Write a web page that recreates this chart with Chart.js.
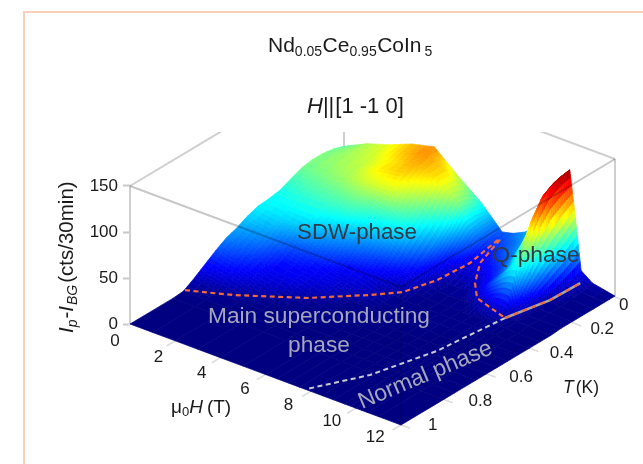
<!DOCTYPE html>
<html><head><meta charset="utf-8">
<style>html,body{margin:0;padding:0;background:#fff;overflow:hidden}#w{position:absolute;left:0;top:0;width:643px;height:464px}canvas{filter:blur(.45px)}</style>
<script src="https://cdn.jsdelivr.net/npm/chart.js@4/dist/chart.umd.min.js"></script>
</head><body><div id="w"><canvas id="c" width="643" height="464"></canvas></div>
<script>
// ---- read values ----
const fieldH = [0,1,2,3,4,5,6,6.5,7,7.5,8,8.5,9,9.5,9.75,10,10.25,10.5,11,12];
const tempT = [0,.05,.1,.15,.2,.25,.3,.35,.4,.45,.5,.55,.6,.65,.7,.75,.8,1];
const zT000 = [54,66,74,84,90,69,50,38,25,28,34,42,60,90,112,120,70,15,6,1];
const zT005 = [58,66,72,82,90,80,58,38,22,24,28,36,55,88,110,118,60,10,3,1];
const zT010 = [60,65,70,78,86,80,62,36,18,18,25,30,48,80,103,112,50,6,2,1];
const zT015 = [60,64,68,78,82,68,46,26,12,13,18,24,38,65,85,95,40,3,1,1];
const zT020 = [58,61,65,72,74,55,34,15,8,8,11,18,28,45,55,70,28,2,1,1];
const zT025 = [53,56,58,60,52,45,24,10,3,3,5,13,25,38,43,45,15,1,1,1];
const zT030 = [48,51,52,50,40,30,15,5,2,2,2,3,8,12,12,10,1,1,1,0];
const zT035 = [46,46,46,38,28,18,10,3,1,1,1,1,1,1,1,1,1,1,0,0];
const zT040 = [45,42,38,28,18,11,3,1,1,1,1,1,1,1,1,1,1,0,0,0];
const zT045 = [41,36,25,19,12,10,2,1,1,1,1,1,1,1,1,0,0,0,0,0];
const zT050 = [35,30,18,14,12,2,1,1,1,1,1,1,0,0,0,0,0,0,0,0];
const zT055 = [31,24,14,13,5,1,1,1,1,0,0,0,0,0,0,0,0,0,0,0];
const zT060 = [24,18,12,6,1,1,1,0,0,0,0,0,0,0,0,0,0,0,0,0];
const zT065 = [16,12,5,1,1,1,0,0,0,0,0,0,0,0,0,0,0,0,0,0];
const zT070 = [8,3,1,1,0,0,0,0,0,0,0,0,0,0,0,0,0,0,0,0];
const zT075 = [1,1,0,0,0,0,0,0,0,0,0,0,0,0,0,0,0,0,0,0];
const zT080 = [0,0,0,0,0,0,0,0,0,0,0,0,0,0,0,0,0,0,0,0];
const zT100 = [0,0,0,0,0,0,0,0,0,0,0,0,0,0,0,0,0,0,0,0];
const zRows = [zT000,zT005,zT010,zT015,zT020,zT025,zT030,zT035,zT040,zT045,zT050,zT055,zT060,zT065,zT070,zT075,zT080,zT100];
const zTicks = [0,50,100,150];
const hTicks = [0,2,4,6,8,10,12];
const tTicks = [0,.2,.4,.6,.8,1];
const tTickLabels = ['0','0.2','0.4','0.6','0.8','1'];
// phase boundaries: field, temperature, intensity
const domeH = [0,1.61,3.81,5.43,6.24,6.71,7.0,6.93];
const domeT = [.743,.689,.575,.452,.383,.273,.15,.002];
const domeZ = [1,3,4,5,6,8,12,18];
const qH = [7.0,7.27,7.79,8.41,10.0];
const qT = [.01,.131,.21,.266,.303];
const qZ = [18,12,6,3,1];
const hc2H = [10.0,10.41,10.46];
const hc2T = [.303,.136,0];
const hc2Z = [1,1,1];
const normalH = [10.0,9.6,8.87,7.79];
const normalT = [.303,.58,.815,.995];
const normalZ = [1,0,0,0];

// ---- oblique projection onto the chart's two scales ----
const H_X = 271/12, T_X = 214, H_Y = 101/12, T_Y = 128, Z_PX = .92;
function proj(h,t,z){const b=1-t;return {x:H_X*h+T_X*b, y:z+(T_Y*b-H_Y*h)/Z_PX};}

function jet(v){
  v=Math.max(0,Math.min(1,v));
  const c=s=>Math.round(255*Math.max(0,Math.min(1,1.5-Math.abs(4*v-s))));
  return `rgb(${c(3)},${c(2)},${c(1)})`;
}
const ZMAX=122, MAXSUB=6;
function cellAt(i,j,a,b){
  const z=(1-a)*(1-b)*zRows[j][i]+a*(1-b)*zRows[j][i+1]+(1-a)*b*zRows[j+1][i]+a*b*zRows[j+1][i+1];
  const h=fieldH[i]+a*(fieldH[i+1]-fieldH[i]);
  const t=tempT[j]+b*(tempT[j+1]-tempT[j]);
  return {z,p:proj(h,t,z)};
}
const quads=[];
for(let j=0;j<tempT.length-1;j++)for(let i=0;i<fieldH.length-1;i++){
  const c=[zRows[j][i],zRows[j][i+1],zRows[j+1][i],zRows[j+1][i+1]];
  const range=Math.max(...c)-Math.min(...c);
  const n=Math.max(1,Math.min(MAXSUB,Math.ceil(range/3)));
  for(let q=0;q<n;q++)for(let r=0;r<n;r++){
    const A=cellAt(i,j,r/n,q/n),B=cellAt(i,j,(r+1)/n,q/n),C=cellAt(i,j,(r+1)/n,(q+1)/n),D=cellAt(i,j,r/n,(q+1)/n);
    const col=jet((A.z+B.z+C.z+D.z)/4/ZMAX);
    quads.push({data:[A.p,B.p,C.p,D.p,A.p],fill:'shape',backgroundColor:col,borderColor:col,borderWidth:.7,pointRadius:0,tension:0});
  }
}
const line=(pts,color,width,dash)=>({data:pts,borderColor:color,borderWidth:width,borderDash:dash||[],pointRadius:0,fill:false,tension:0,clip:{left:3,right:0,top:0,bottom:0},borderCapStyle:'butt'});
const curve=(H,T,Z)=>H.map((h,i)=>proj(h,T[i],Z[i]));
const BOX='#cfcfcf', TICK='#dedede', THRU='rgba(0,0,0,.22)', ORANGE='#f2683a';
const front=[
  line(curve(domeH,domeT,domeZ),ORANGE,2.2,[5,3.5]),
  line(curve(qH,qT,qZ),ORANGE,2.2,[5,3.5]),
  line(curve(hc2H,hc2T,hc2Z),ORANGE,2,[5,4.5]),
  line(curve(hc2H,hc2T,hc2Z),'#aaa6a6',2.6),
  line(curve(normalH,normalT,normalZ),'#c9c9cf',2,[5,3.5]),
  line([proj(0,1,150),proj(12,1,150),proj(12,0,150)],THRU,2),
  line([proj(12,1,0),proj(12,1,150)],'rgba(0,0,0,.12)',2),
];
const back=[
  line([proj(0,1,0),proj(0,1,150)],BOX,2),
  line([proj(12,0,0),proj(12,0,150)],BOX,2),
  line([proj(0,0,0),proj(0,0,150)],BOX,2),
  line([proj(0,1,150),proj(0,0,150)],BOX,2),
  line([proj(12,0,150),proj(0,0,150)],BOX,2),
  ...hTicks.map(h=>line([proj(h,1,0),proj(h,1.04,0)],TICK,1.6)),
  ...tTicks.map(t=>line([proj(12,t,0),proj(12.4,t,0)],TICK,1.6)),
];
// quads: nearest first, because Chart.js paints the last dataset first
const datasets=[...front,...quads.reverse(),...back];

// ---- text ----
const SANS='"Liberation Sans",Arial,sans-serif';
function rich(ctx,x,y,parts,color,center){
  ctx.fillStyle=color;ctx.textBaseline='alphabetic';ctx.textAlign='left';
  let w=0;
  for(const p of parts){ctx.font=`${p.it?'italic ':''}${p.s}px ${SANS}`;w+=ctx.measureText(p.t).width+(p.gap||0);}
  let cx=center?x-w/2:x;
  for(const p of parts){ctx.font=`${p.it?'italic ':''}${p.s}px ${SANS}`;ctx.fillText(p.t,cx,y+(p.dy||0));cx+=ctx.measureText(p.t).width+(p.gap||0);}
}
const textPlugin={id:'text',afterDraw(chart){
  const ctx=chart.ctx,sx=chart.scales.x,sy=chart.scales.y;
  const at=(h,t,z)=>{const p=proj(h,t,z);return [sx.getPixelForValue(p.x),sy.getPixelForValue(p.y)];};
  ctx.save();
  // frame
  ctx.strokeStyle='#f9cfbb';ctx.lineWidth=2;ctx.beginPath();ctx.moveTo(24,464);ctx.lineTo(24,12);ctx.lineTo(643,12);ctx.stroke();
  // titles
  rich(ctx,268,52,[{t:'Nd',s:21},{t:'0.05',s:14,dy:4,gap:.5},{t:'Ce',s:21},{t:'0.95',s:14,dy:4,gap:.5},{t:'CoIn',s:21,gap:3},{t:'5',s:14,dy:4}],'#1a1a1a');
  rich(ctx,307,113,[{t:'H',s:22,it:1},{t:'||',s:22,gap:1},{t:'[1 -1 0]',s:22}],'#1a1a1a');
  // y title
  ctx.save();ctx.translate(73,333);ctx.rotate(-Math.PI/2);
  rich(ctx,0,0,[{t:'I',s:20.5,it:1},{t:'p',s:14,it:1,dy:4,gap:1},{t:'-',s:20.5},{t:'I',s:20.5,it:1,gap:1},{t:'BG',s:14,it:1,dy:4,gap:2},{t:'(cts/30min)',s:20.5}],'#1a1a1a');
  ctx.restore();
  // floor tick labels
  ctx.font=`17px ${SANS}`;ctx.fillStyle='#1a1a1a';ctx.textBaseline='middle';
  ctx.textAlign='center';
  hTicks.forEach(h=>{const [x,y]=at(h,1,0);ctx.fillText(String(h),x-15-h*.9,y+17-h*.4);});
  ctx.textAlign='left';
  tTicks.forEach((t,i)=>{const [x,y]=at(12,t,0);ctx.fillText(tTickLabels[i],x+(t===0?4:16+11*t),y+8-8*t);});
  // axis names
  rich(ctx,171,413,[{t:'\u03bc',s:19},{t:'0',s:13,dy:3},{t:'H',s:19,it:1,gap:4},{t:'(T)',s:19}],'#1a1a1a');
  rich(ctx,563,393,[{t:'T',s:17.5,it:1,gap:2},{t:'(K)',s:17.5}],'#1a1a1a');
  // phase names
  rich(ctx,357,239,[{t:'SDW-phase',s:22.3}],'#2f3a44',true);
  rich(ctx,536,262,[{t:'Q-phase',s:22.7}],'#2f3a44',true);
  rich(ctx,319,323,[{t:'Main superconducting',s:22.7}],'#a6a6bb',true);
  rich(ctx,319,352,[{t:'phase',s:22.7}],'#a6a6bb',true);
  ctx.save();ctx.translate(362,409);ctx.rotate(-.40);
  rich(ctx,0,0,[{t:'Normal phase',s:23}],'#a6a6bb');
  ctx.restore();
  ctx.restore();
}};

new Chart(document.getElementById('c'),{
  type:'line',
  data:{datasets},
  plugins:[textPlugin],
  options:{
    responsive:false,animation:false,events:[],parsing:false,normalized:true,
    layout:{padding:{top:132,left:0,right:0,bottom:0}},
    plugins:{legend:{display:false},title:{display:false},tooltip:{enabled:false},filler:{drawTime:'beforeDatasetDraw',propagate:false}},
    scales:{
      x:{type:'linear',display:false,min:0,max:513},
      y:{type:'linear',min:-(464-324)/Z_PX,max:(324-132)/Z_PX,
        afterFit(s){s.width=130;s.paddingTop=0;s.paddingBottom=0;},
        afterBuildTicks(s){s.ticks=zTicks.map(v=>({value:v}));},
        border:{display:false},
        grid:{drawOnChartArea:false,drawTicks:true,tickLength:7,tickColor:'#c8c8c8',tickWidth:2},
        ticks:{autoSkip:false,padding:5,color:'#1a1a1a',font:{size:17,family:SANS},callback:v=>String(v)}
      }
    }
  }
});
</script></body></html>
